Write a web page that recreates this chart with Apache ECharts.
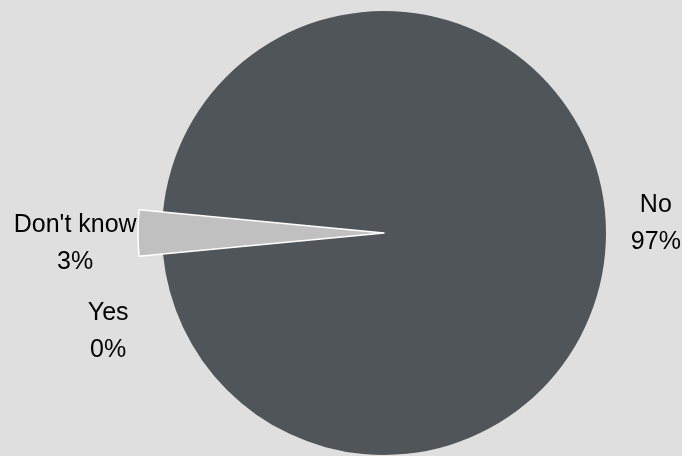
<!DOCTYPE html>
<html><head><meta charset="utf-8">
<script src="https://cdn.jsdelivr.net/npm/echarts@6/dist/echarts.min.js"></script>
<style>html,body{margin:0;padding:0;background:#dfdfdf}#c{width:682px;height:456px}</style>
</head><body><div id="c"></div>
<script>
// Data
const categories = ["Don't know", 'No', 'Yes'];
const values = [3, 97, 0];
const sliceColors = ['#c0c0c0', '#505559', '#c0c0c0'];
const explodedCategory = "Don't know";

const total = values.reduce((a, b) => a + b, 0);
const pct = values.map(v => Math.round(v / total * 100));
const exIdx = categories.indexOf(explodedCategory);

// Centre the exploded slice on the left (180 deg)
const startAngle = 180 + values[exIdx] / total * 180;

const CX = 384, CY = 233, R = 222, R_EX = 246;

// mid-angle of each slice (math degrees, clockwise drawing from startAngle)
const midAngles = [];
{
  let a = startAngle;
  values.forEach(v => { const sweep = v / total * 360; midAngles.push(a - sweep / 2); a -= sweep; });
}
// label placement (polar, relative to pie centre)
const labelShift = { 'No': 1.9, "Don't know": 2.0, 'Yes': 14.3 };
const labelDist = { 'No': 272, "Don't know": 309, 'Yes': 293 };

const chart = echarts.init(document.getElementById('c'), null, { renderer: 'canvas' });

const fontStyle = { fontFamily: '"Liberation Sans", Arial, sans-serif', fontSize: 25, lineHeight: 37, color: '#000' };

chart.setOption({
  backgroundColor: '#dfdfdf',
  animation: false,
  series: [
    {
      type: 'pie',
      center: [CX, CY],
      radius: [0, R],
      startAngle: startAngle,
      clockwise: true,
      avoidLabelOverlap: false,
      stillShowZeroSum: true,
      silent: true,
      data: categories.map((c, i) => ({
        name: c, value: values[i],
        itemStyle: { color: sliceColors[i] }
      })),
      label: Object.assign({
        show: true,
        position: 'outside',
        formatter: p => p.name + '\n' + pct[p.dataIndex] + '%'
      }, fontStyle),
      labelLine: { show: false },
      labelLayout: p => {
        const name = categories[p.dataIndex];
        const ang = (midAngles[p.dataIndex] + labelShift[name]) * Math.PI / 180;
        const d = labelDist[name];
        return {
          x: CX + d * Math.cos(ang),
          y: CY - d * Math.sin(ang),
          align: 'center',
          verticalAlign: 'middle'
        };
      }
    },
    {
      type: 'pie',
      center: [CX, CY],
      radius: [0, R_EX],
      startAngle: startAngle,
      clockwise: true,
      silent: true,
      z: 3,
      data: categories.map((c, i) => ({
        name: c, value: values[i],
        itemStyle: i === exIdx
          ? { color: sliceColors[i], borderColor: '#ffffff', borderWidth: 1.5 }
          : { color: 'rgba(0,0,0,0)', borderWidth: 0 }
      })),
      label: { show: false },
      labelLine: { show: false }
    }
  ]
});
</script>
</body></html>
